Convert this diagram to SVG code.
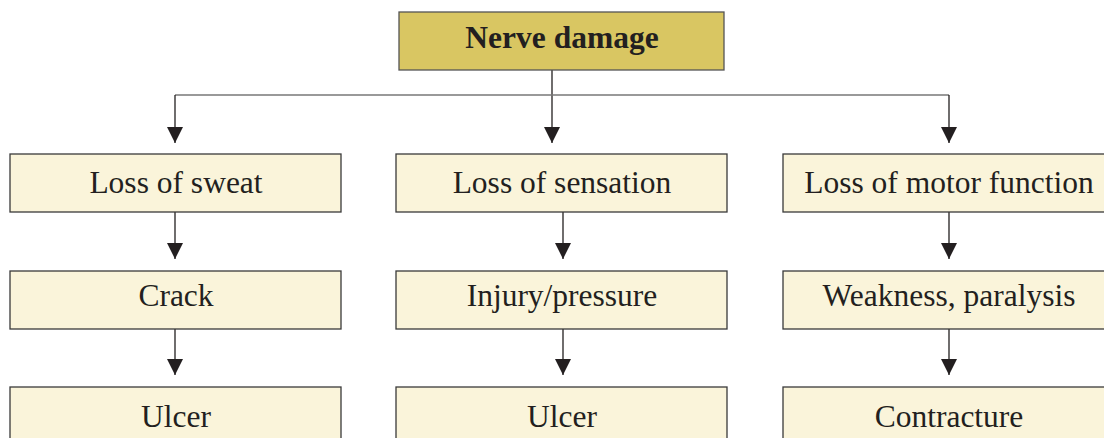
<svg xmlns="http://www.w3.org/2000/svg" width="1104" height="438" viewBox="0 0 1104 438">
<defs>
<marker id="ah" viewBox="0 0 16 16" refX="16" refY="8" markerWidth="16" markerHeight="16" markerUnits="userSpaceOnUse" orient="auto">
<path d="M0,0 L16,8 L0,16 z" fill="#231f20"/>
</marker>
</defs>
<style>
.box{fill:#faf4da;stroke:#3a3a3a;stroke-width:1.3}
.top{fill:#d9c662;stroke:#555;stroke-width:1.3}
.t{font-family:"Liberation Serif",serif;font-size:31.5px;fill:#231f20;text-anchor:middle}
.tb{font-family:"Liberation Serif",serif;font-size:31.5px;font-weight:bold;fill:#231f20;text-anchor:middle}
.c{stroke:#231f20;stroke-width:1.3;fill:none}
</style>
<rect width="1104" height="438" fill="#fff"/>
<g id="connectors">
<path class="c" d="M552,70 V143" marker-end="url(#ah)"/>
<path d="M175,95 H949" stroke="#777" stroke-width="1.3" fill="none"/>
<path class="c" d="M175,95 V143" marker-end="url(#ah)"/>
<path class="c" d="M949,95 V143" marker-end="url(#ah)"/>
<path class="c" d="M175,212 V259" marker-end="url(#ah)"/>
<path class="c" d="M563,212 V259" marker-end="url(#ah)"/>
<path class="c" d="M949,212 V259" marker-end="url(#ah)"/>
<path class="c" d="M175,329 V375" marker-end="url(#ah)"/>
<path class="c" d="M563,329 V375" marker-end="url(#ah)"/>
<path class="c" d="M949,329 V375" marker-end="url(#ah)"/>
</g>
<g id="nerve-damage"><rect class="top" x="399" y="12" width="325" height="58"/><text class="tb" x="562" y="48">Nerve damage</text></g>
<g id="loss-sweat"><rect class="box" x="10" y="154" width="331" height="58"/><text class="t" x="176" y="193">Loss of sweat</text></g>
<g id="loss-sensation"><rect class="box" x="396" y="154" width="331" height="58"/><text class="t" x="562" y="193">Loss of sensation</text></g>
<g id="loss-motor"><rect class="box" x="783" y="154" width="331" height="58"/><text class="t" x="949" y="193">Loss of motor function</text></g>
<g id="crack"><rect class="box" x="10" y="271" width="331" height="58"/><text class="t" x="176" y="306">Crack</text></g>
<g id="injury"><rect class="box" x="396" y="271" width="331" height="58"/><text class="t" x="562" y="306">Injury/pressure</text></g>
<g id="weakness"><rect class="box" x="783" y="271" width="331" height="58"/><text class="t" x="949" y="306">Weakness, paralysis</text></g>
<g id="ulcer1"><rect class="box" x="10" y="387" width="331" height="70"/><text class="t" x="176" y="427">Ulcer</text></g>
<g id="ulcer2"><rect class="box" x="396" y="387" width="331" height="70"/><text class="t" x="562" y="427">Ulcer</text></g>
<g id="contracture"><rect class="box" x="783" y="387" width="331" height="70"/><text class="t" x="949" y="427">Contracture</text></g>
</svg>
